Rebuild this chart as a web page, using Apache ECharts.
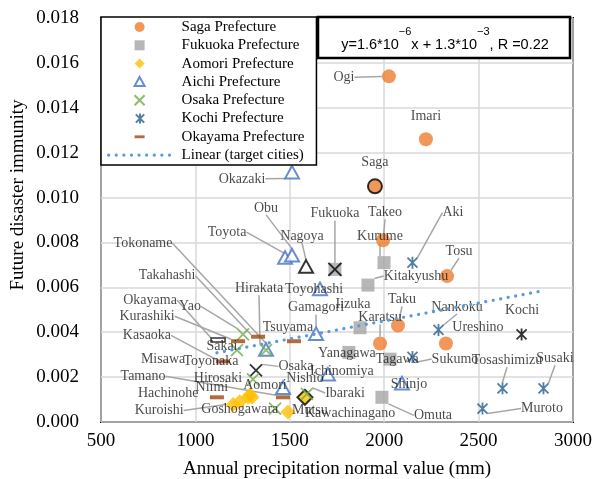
<!DOCTYPE html>
<html>
<head>
<meta charset="utf-8">
<script src="https://cdn.jsdelivr.net/npm/echarts@6/dist/echarts.min.js"></script>
<style>
  html, body { margin: 0; padding: 0; background: #fff; }
  #chart { width: 593px; height: 479px; }
</style>
</head>
<body>
<div id="chart"></div>
<script>
// values: annual precipitation (mm) and future disaster immunity
const sagaCities = ['Ogi', 'Imari', 'Saga', 'Takeo', 'Tosu', 'Taku', 'Karatsu', 'Ureshino'];
const sagaPrecip = [2025, 2221, 1951, 1994, 2333, 2073, 1978, 2327];
const sagaImmunity = [0.0154, 0.0126, 0.0105, 0.0081, 0.0065, 0.0043, 0.0035, 0.0035];

const fukuokaCities = ['Fukuoka', 'Kurume', 'Kitakyushu', 'Iizuka', 'Yanagawa', 'Tagawa', 'Omuta'];
const fukuokaPrecip = [1739, 1999, 1914, 1872, 1813, 2031, 1988];
const fukuokaImmunity = [0.0068, 0.0071, 0.0061, 0.0042, 0.0031, 0.0028, 0.0011];

const aomoriCities = ['Aomori', 'Hirosaki', 'Kuroishi', 'Goshogawara', 'Mutsu', 'Hachinohe', 'Misawa'];
const aomoriPrecip = [1580, 1289, 1200, 1235, 1490, 1280, 1300];
const aomoriImmunity = [0.0011, 0.0012, 0.00078, 0.0009, 0.00045, 0.0011, 0.0011];

const aichiCities = ['Okazaki', 'Toyota', 'Obu', 'Nagoya', 'Toyohashi', 'Gamagori', 'Tokoname', 'Ichinomiya', 'Shinjo', 'Nishio'];
const aichiPrecip = [1512, 1475, 1512, 1586, 1660, 1639, 1374, 1702, 2094, 1464];
const aichiImmunity = [0.0111, 0.0073, 0.0074, 0.0069, 0.0059, 0.0039, 0.0032, 0.0021, 0.0017, 0.0015];

const osakaCities = ['Osaka', 'Yao', 'Sakai', 'Hirakata', 'Toyonaka', 'Kawachinagano', 'Ibaraki'];
const osakaPrecip = [1321, 1252, 1220, 1374, 1305, 1422, 1591];
const osakaImmunity = [0.0023, 0.0039, 0.0032, 0.0032, 0.0019, 0.0006, 0.00125];

const kochiCities = ['Kochi', 'Aki', 'Nankoku', 'Sukumo', 'Tosashimizu', 'Susaki', 'Muroto'];
const kochiPrecip = [2725, 2147, 2285, 2147, 2624, 2841, 2518];
const kochiImmunity = [0.0039, 0.0071, 0.0041, 0.0029, 0.0015, 0.0015, 0.0006];

const okayamaCities = ['Okayama', 'Kurashiki', 'Takahashi', 'Tsuyama', 'Kasaoka', 'Niimi', 'Tamano'];
const okayamaPrecip = [1120, 1226, 1332, 1522, 1146, 1114, 1464];
const okayamaImmunity = [0.00365, 0.0036, 0.0038, 0.0036, 0.0027, 0.0011, 0.0011];

// prefectural capitals drawn in black
const capitals = ['Saga', 'Fukuoka', 'Aomori', 'Nagoya', 'Osaka', 'Kochi', 'Okayama'];

// linear fit printed on the chart
const fitSlope = 1.6e-6;
const fitIntercept = 1.3e-3;

const xTicks = [500, 1000, 1500, 2000, 2500, 3000];
const yTicks = [0, 0.002, 0.004, 0.006, 0.008, 0.010, 0.012, 0.014, 0.016, 0.018];

// label offsets from the point [dx, dy, draw leader line]
const labelPos = {
  Ogi: [-45, 1, 1], Imari: [0, -23, 0], Saga: [0, -24, 0], Takeo: [2, -28, 1],
  Tosu: [12, -25, 1], Taku: [4, -26, 1], Karatsu: [0, -26, 1], Ureshino: [32, -16, 0],
  Fukuoka: [0, -56, 1], Kurume: [-4, -26, 1], Kitakyushu: [48, -9, 1], Iizuka: [-7, -23, 0],
  Yanagawa: [-2, 1, 0], Tagawa: [7, 0, 0], Omuta: [51, 18, 1],
  Aomori: [-40, -12, 0], Hirosaki: [-32, -17, 0], Kuroishi: [-74, 6, 1], Goshogawara: [0, 8, 0],
  Mutsu: [22, -2, 0], Hachinohe: [-80, -4, 0], Misawa: [-89, -38, 0],
  Okazaki: [-50, 6, 1], Toyota: [-58, -26, 1], Obu: [-26, -48, 1], Nagoya: [-4, -31, 1],
  Toyohashi: [-6, 0, 0], Gamagori: [0, -27, 1], Tokoname: [-123, -107, 1], Ichinomiya: [14, -4, 0],
  Shinjo: [7, 0, 0], Nishio: [22, -10, 0],
  Osaka: [40, -4, 1], Yao: [-53, -28, 1], Sakai: [-15, -4, 0], Hirakata: [-7, -62, 1],
  Toyonaka: [-42, -18, 0], Kawachinagano: [75, 5, 0], Ibaraki: [38, -1, 1],
  Kochi: [1, -24, 0], Aki: [41, -50, 1], Nankoku: [19, -23, 1], Sukumo: [43, 2, 1],
  Tosashimizu: [5, -28, 1], Susaki: [12, -30, 1], Muroto: [60, 0, 1],
  Okayama: [-68, -40, 1], Kurashiki: [-91, -25, 1], Takahashi: [-91, -61, 1], Tsuyama: [-6, -14, 0],
  Kasaoka: [-76, -26, 1], Niimi: [-5, -10, 0], Tamano: [-140, -21, 1]
};

const serif = 'Liberation Serif, Times New Roman, serif';
// marker shapes, all with a square bounding box so legend icons keep their shape
const squareMark = 'path://M0,0L10,0L10,10L0,10Z';
const diamondMark = 'path://M5,0L10,5L5,10L0,5Z';
const triangleMark = 'path://M5,0L10,9L0,9ZM0,10';
const xMark = 'path://M0,0L10,10M10,0L0,10';
const starMark = 'path://M0,0L10,10M10,0L0,10M5,-1L5,11M-1,5';
const dashMark = 'path://M0,0M14,14M0,5L14,5L14,9L0,9Z';

const groups = [
  { name: 'Saga Prefecture', cities: sagaCities, x: sagaPrecip, y: sagaImmunity,
    symbol: 'circle', size: 14, style: { color: '#ED7D31' },
    capStyle: { color: '#ED7D31', borderColor: '#000', borderWidth: 2 } },
  { name: 'Fukuoka Prefecture', cities: fukuokaCities, x: fukuokaPrecip, y: fukuokaImmunity,
    symbol: squareMark, size: 13, style: { color: '#A5A5A5' }, capStyle: { color: '#A5A5A5' } },
  { name: 'Aomori Prefecture', cities: aomoriCities, x: aomoriPrecip, y: aomoriImmunity,
    symbol: diamondMark, size: 15, style: { color: '#FFC000' },
    capStyle: { color: '#FFC000', borderColor: '#000', borderWidth: 2 } },
  { name: 'Aichi Prefecture', cities: aichiCities, x: aichiPrecip, y: aichiImmunity,
    symbol: triangleMark, size: 14, style: { color: '#fff', borderColor: '#4472C4', borderWidth: 2 },
    capStyle: { color: '#fff', borderColor: '#000', borderWidth: 2 } },
  { name: 'Osaka Prefecture', cities: osakaCities, x: osakaPrecip, y: osakaImmunity,
    symbol: xMark, size: 12, style: { color: 'rgba(0,0,0,0)', borderColor: '#70AD47', borderWidth: 1.8 },
    capStyle: { color: 'rgba(0,0,0,0)', borderColor: '#000', borderWidth: 1.8 } },
  { name: 'Kochi Prefecture', cities: kochiCities, x: kochiPrecip, y: kochiImmunity,
    symbol: starMark, size: 12, style: { color: 'rgba(0,0,0,0)', borderColor: '#255E91', borderWidth: 1.8 },
    capStyle: { color: 'rgba(0,0,0,0)', borderColor: '#000', borderWidth: 1.8 } },
  { name: 'Okayama Prefecture', cities: okayamaCities, x: okayamaPrecip, y: okayamaImmunity,
    symbol: dashMark, size: 14, style: { color: '#9E480E' },
    capStyle: { color: '#fff', borderColor: '#000', borderWidth: 1.5 } }
];

const series = groups.map(g => ({
  name: g.name,
  type: 'scatter',
  symbol: g.symbol,
  symbolSize: g.size,
  symbolKeepAspect: true,
  itemStyle: g.style,
  label: {
    show: true,
    position: 'inside',
    formatter: '{b}',
    fontFamily: serif,
    fontSize: 14,
    color: '#1a1a1a'
  },
  labelLine: { show: true, lineStyle: { color: '#A6A6A6', width: 1.5 } },
  labelLayout: p => {
    const off = labelPos[g.cities[p.dataIndex]] || [0, 0, 0];
    return { dx: off[0], dy: off[1] };
  },
  emphasis: { disabled: true },
  data: g.cities.map((c, i) => ({
    name: c,
    value: [g.x[i], g.y[i]],
    itemStyle: capitals.includes(c) ? g.capStyle : undefined,
    labelLine: { show: !!(labelPos[c] && labelPos[c][2]) }
  }))
}));

// black cross drawn over the Fukuoka city square
const fIdx = fukuokaCities.indexOf('Fukuoka');
series.push({
  name: 'capital',
  type: 'scatter',
  symbol: xMark,
  symbolSize: 13,
  silent: true,
  z: 3,
  itemStyle: { color: 'rgba(0,0,0,0)', borderColor: '#000', borderWidth: 2 },
  data: [[fukuokaPrecip[fIdx], fukuokaImmunity[fIdx]]]
});

// trend line over the range of target cities
const allX = [].concat(sagaPrecip, fukuokaPrecip, aomoriPrecip, aichiPrecip, osakaPrecip, kochiPrecip, okayamaPrecip);
const xLo = Math.min.apply(null, allX);
const xHi = Math.max.apply(null, allX);
series.push({
  name: 'Linear (target cities)',
  type: 'line',
  showSymbol: false,
  symbol: 'none',
  silent: true,
  lineStyle: { color: '#5B9BD5', width: 3.2, type: [0.1, 7.5], cap: 'round' },
  itemStyle: { color: 'rgba(0,0,0,0)' },
  data: [[xLo, fitSlope * xLo + fitIntercept], [xHi, fitSlope * xHi + fitIntercept]]
});

const chart = echarts.init(document.getElementById('chart'));
chart.setOption({
  animation: false,
  backgroundColor: '#fff',
  grid: {
    left: 101, right: 20, top: 18, bottom: 57,
    outerBoundsMode: 'none',
    show: true, borderColor: '#000', borderWidth: 2
  },
  legend: {
    orient: 'vertical',
    left: 101, top: 17,
    backgroundColor: '#fff',
    borderColor: '#000',
    borderWidth: 1.5,
    borderRadius: 0,
    padding: [2, 12, 2, 6],
    itemWidth: 62,
    itemHeight: 10,
    itemGap: 2.3,
    symbolKeepAspect: true,
    lineStyle: { width: 3.2, type: [0.1, 7.5], cap: 'round' },
    textStyle: { fontFamily: serif, fontSize: 15, lineHeight: 16, color: '#000', padding: [0, 0, 0, 6] },
    data: groups.map(g => g.name).concat(['Linear (target cities)'])
  },
  xAxis: {
    type: 'value',
    min: xTicks[0], max: xTicks[xTicks.length - 1], interval: 500,
    name: 'Annual precipitation normal value (mm)',
    nameLocation: 'middle',
    nameGap: 38,
    nameTextStyle: { fontFamily: serif, fontSize: 19, color: '#000' },
    axisLine: { show: false },
    axisTick: { show: false },
    axisLabel: { fontFamily: serif, fontSize: 19, color: '#000', margin: 10,
      formatter: v => String(v) },
    splitLine: { lineStyle: { color: '#D9D9D9', width: 1.5 } }
  },
  yAxis: {
    type: 'value',
    min: yTicks[0], max: yTicks[yTicks.length - 1], interval: 0.002,
    axisLine: { show: false },
    axisTick: { show: false },
    axisLabel: { fontFamily: serif, fontSize: 19, color: '#000', margin: 22,
      formatter: v => v.toFixed(3) },
    splitLine: { lineStyle: { color: '#D9D9D9', width: 1.5 } }
  },
  graphic: [
    {
      type: 'text', x: 18, y: 195, rotation: Math.PI / 2,
      style: { text: 'Future disaster immunity', fontFamily: serif, fontSize: 19,
        fill: '#000', align: 'center', verticalAlign: 'middle' }
    },
    {
      type: 'rect', z: 100,
      shape: { x: 318, y: 17, width: 252, height: 41 },
      style: { fill: '#fff', stroke: '#000', lineWidth: 2.5 }
    },
    {
      type: 'text', z: 101, x: 445, y: 39,
      style: {
        text: '{n|y=1.6*10}{s|−6}{n|x + 1.3*10}{s|−3}{n|, R =0.22}',
        align: 'center', verticalAlign: 'middle',
        rich: {
          n: { fontFamily: 'Liberation Sans, Arial, sans-serif', fontSize: 14.5, fill: '#000', lineHeight: 26, verticalAlign: 'bottom' },
          s: { fontFamily: 'Liberation Sans, Arial, sans-serif', fontSize: 11, fill: '#000', lineHeight: 26, verticalAlign: 'top' }
        }
      }
    }
  ],
  series: series
});
</script>
</body>
</html>
